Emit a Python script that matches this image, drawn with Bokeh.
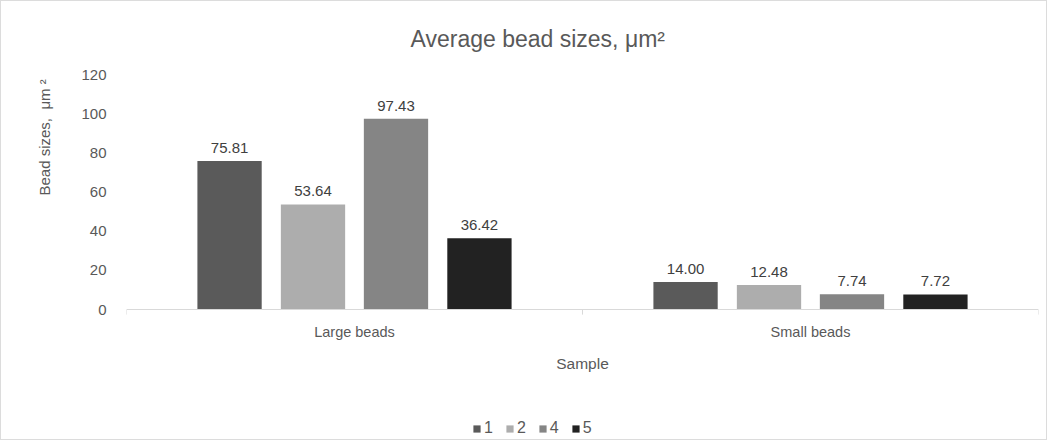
from bokeh.plotting import figure
from bokeh.models import (ColumnDataSource, FactorRange, Legend, LegendItem, Range1d,
                          Title, Span, Label)
from bokeh.transform import dodge
from bokeh.core.properties import value
from bokeh.embed import file_html
from bokeh.resources import INLINE

categories = ["Large beads", "Small beads"]
series_names = ["1", "2", "4", "5"]
s1 = [75.81, 14.00]
s2 = [53.64, 12.48]
s4 = [97.43, 7.74]
s5 = [36.42, 7.72]
series_values = [s1, s2, s4, s5]
colors = ["#5a5a5a", "#adadad", "#858585", "#222222"]
offsets = [-0.274, -0.091, 0.091, 0.274]
y_ticks = [0, 20, 40, 60, 80, 100, 120]
x_title = "Sample"
y_title = "Bead sizes,\u00a0 μm\u00a0²"
chart_title = "Average bead sizes, μm²"

FONT = "Liberation Sans"
TXT = "#595959"

# frame extends below the zero line so that category labels, axis title and legend live inside it
p = figure(x_range=FactorRange(factors=categories, range_padding=0),
           y_range=Range1d(-67.4, 120),
           width=1047, height=440, output_backend="svg", toolbar_location=None,
           min_border_left=125, min_border_right=10, min_border_top=73, min_border_bottom=0)
p.outline_line_color = None
p.xgrid.grid_line_color = None
p.ygrid.grid_line_color = None
p.xaxis.visible = False

# zero line (category axis line) with ticks at category boundaries
p.add_layout(Span(location=0, dimension="width", line_color="#d9d9d9", line_width=1))
bounds = list(range(len(categories) + 1))
p.segment(x0=bounds, y0=[0] * len(bounds), x1=bounds, y1=[-2.6] * len(bounds),
          line_color="#d9d9d9", line_width=1)

items = []
for name, vals, col, off in zip(series_names, series_values, colors, offsets):
    src = ColumnDataSource(dict(cat=categories, v=vals, lab=["%.2f" % v for v in vals]))
    r = p.vbar(x=dodge("cat", off, range=p.x_range), top="v", width=0.141, source=src,
               fill_color=col, line_color=None)
    p.text(x=dodge("cat", off, range=p.x_range), y="v", text="lab", source=src,
           text_align="center", text_baseline="bottom", y_offset=-8,
           text_font=value(FONT), text_font_size="15px", text_color="#404040")
    items.append(LegendItem(label=name, renderers=[r]))

# category labels
cat_src = ColumnDataSource(dict(cat=categories, y=[0] * len(categories)))
p.text(x="cat", y="y", text="cat", source=cat_src, text_align="center", text_baseline="top",
       y_offset=14, text_font=value(FONT), text_font_size="14.5px", text_color=TXT)

# x axis title, centred between the two categories
p.add_layout(Label(x=len(categories) / 2, y=-27.6, text=x_title, text_align="center",
                   text_baseline="middle", text_font=FONT, text_font_size="15.5px",
                   text_color=TXT))

p.yaxis.ticker = y_ticks
p.yaxis.axis_line_color = None
p.yaxis.major_tick_line_color = None
p.yaxis.minor_tick_line_color = None
p.yaxis.major_label_standoff = 14
p.yaxis.major_label_text_font = FONT
p.yaxis.major_label_text_font_size = "15px"
p.yaxis.major_label_text_color = TXT

ytitle = Title(text=y_title, align="left", offset=246, standoff=52,
               text_font=FONT, text_font_size="15px", text_font_style="normal", text_color=TXT)
p.add_layout(ytitle, "left")

legend = Legend(items=items, orientation="horizontal", location=(346, 4),
                glyph_width=9, glyph_height=9, label_standoff=3, spacing=12, label_width=0,
                label_text_font=FONT, label_text_font_size="16px", label_text_color=TXT,
                border_line_color=None, background_fill_alpha=0, padding=0, margin=0)
p.add_layout(legend, "center")

p.title.text = chart_title
p.title.align = "left"
p.title.offset = 284
p.title.standoff = 45
p.title.text_font = FONT
p.title.text_font_size = "23px"
p.title.text_font_style = "normal"
p.title.text_color = TXT

p.styles = {"border": "1px solid #dcdcdc", "box-sizing": "border-box"}

open("out.html", "w").write(file_html(p, INLINE))
